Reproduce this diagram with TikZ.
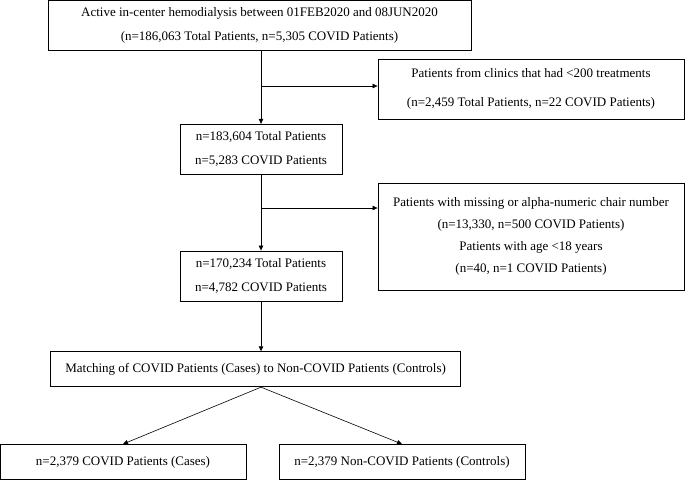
\documentclass[tikz,border=0pt]{standalone}
\usepackage{fontspec}
\setmainfont{Liberation Serif}
\usetikzlibrary{arrows.meta,positioning}

\begin{document}
\begin{tikzpicture}[x=1pt,y=-1pt,>={Triangle[length=5pt,width=4.5pt]},
    box/.style={draw,line width=0.9pt,align=center,inner sep=0pt,
      font=\fontsize{13}{24}\selectfont},
    flow/.style={->,line width=0.6pt}]
    \useasboundingbox (0,0) rectangle (685,480);
    \node[box,minimum width=423pt,minimum height=50pt] (all) at (259.5,25)
      {Active in-center hemodialysis between 01FEB2020 and 08JUN2020\\(n=186,063 Total Patients, n=5,305 COVID Patients)};
    \node[box,minimum width=306pt,minimum height=60pt,font=\fontsize{13}{29}\selectfont] (excl1) at (531,89)
      {Patients from clinics that had <200 treatments\\(n=2,459 Total Patients, n=22 COVID Patients)};
    \node[box,minimum width=162pt,minimum height=50pt] (n1) at (261,149.3)
      {n=183,604 Total Patients\\n=5,283 COVID Patients};
    \node[box,minimum width=306pt,minimum height=107pt,font=\fontsize{13}{22}\selectfont] (excl2) at (531,236.7)
      {Patients with missing or alpha-numeric chair number\\(n=13,330, n=500 COVID Patients)\\Patients with age <18 years\\(n=40, n=1 COVID Patients)};
    \node[box,minimum width=162pt,minimum height=50pt] (n2) at (261,276)
      {n=170,234 Total Patients\\n=4,782 COVID Patients};
    \node[box,minimum width=410pt,minimum height=35pt] (match) at (255.7,369.2)
      {Matching of COVID Patients (Cases) to Non-COVID Patients (Controls)};
    \node[box,minimum width=246pt,minimum height=35pt] (cases) at (123,462)
      {n=2,379 COVID Patients (Cases)};
    \node[box,minimum width=246pt,minimum height=35pt] (controls) at (402,462)
      {n=2,379 Non-COVID Patients (Controls)};
    % branch points
    \coordinate (b1) at (261,86);
    \coordinate (b2) at (261,208);
    \coordinate (split) at (n2.south |- match.south);
    % main flow
    \draw[flow] (n1.north |- all.south) -- (n1.north);
    \draw[flow] (n1.south) -- (n2.north);
    \draw[flow] (n2.south) -- (n2.south |- match.north);
    % exclusions
    \draw[flow] (b1) -- (b1 -| excl1.west);
    \draw[flow] (b2) -- (b2 -| excl2.west);
    % matched groups
    \draw[flow] (split) -- (cases.north);
    \draw[flow] (split) -- (controls.north);
\end{tikzpicture}
\end{document}
